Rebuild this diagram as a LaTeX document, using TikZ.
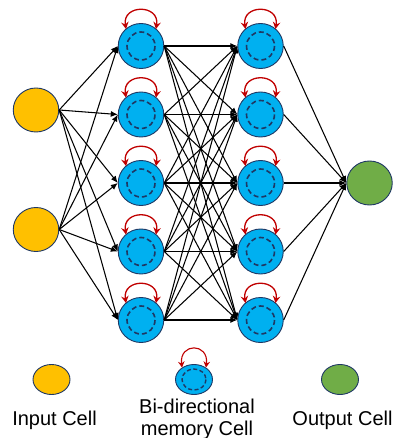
\documentclass[tikz,border=0pt]{standalone}
\usepackage{fontspec}
\setmainfont{Liberation Sans}
\usetikzlibrary{arrows.meta,shapes.geometric}
\definecolor{incol}{HTML}{FFC000}
\definecolor{memcol}{HTML}{00B0F0}
\definecolor{outcol}{HTML}{70AD47}
\definecolor{edgecol}{HTML}{1F3864}
\definecolor{loopcol}{HTML}{C00000}
\begin{document}
\begin{tikzpicture}[x=1pt,y=-1pt,
  cell/.style={ellipse,draw=edgecol,line width=0.9pt,inner sep=0pt},
  bigcell/.style={cell,minimum width=45.5pt,minimum height=45pt},
  smallcell/.style={cell,minimum width=37pt,minimum height=30pt},
  incell/.style={fill=incol},
  memcell/.style={fill=memcol},
  outcell/.style={fill=outcol},
  inner/.style={draw=edgecol,line width=1.6pt,dash pattern=on 5pt off 3pt},
  selfloop/.style={draw=loopcol,line width=1.3pt,{Stealth[length=7pt,width=7.5pt,inset=2.5pt]}-{Stealth[length=7pt,width=7.5pt,inset=2.5pt]}},
  conn/.style={draw=black,line width=1.05pt,-{Latex[length=7pt,width=6pt]}},
  legend/.style={font=\fontsize{20}{22}\selectfont,inner sep=0pt,anchor=base}
]
\useasboundingbox (0,0) rectangle (395,438);

% input cells
\node[bigcell,incell,minimum height=44pt] (i1) at (36,110) {};
\node[bigcell,incell,minimum height=44pt] (i2) at (36,229.5) {};

% hidden layers
\foreach \k/\yy in {1/46,2/114.5,3/183,4/251.5,5/320}{
  \node[bigcell,memcell] (a\k) at (141,\yy) {};
  \node[bigcell,memcell] (b\k) at (260.5,\yy) {};
}
% output
\node[bigcell,outcell,minimum height=44pt] (o) at (369.5,183) {};

% connectors
\foreach \i in {1,2}{
  \foreach \k in {1,...,5}{
    \draw[conn] (i\i.east) -- (a\k.west);
  }
}
\foreach \j in {1,...,5}{
  \foreach \k in {1,...,5}{
    \draw[conn] (a\j.east) -- (b\k.west);
  }
}
\foreach \k in {1,...,5}{
  \draw[conn] (b\k.east) -- (o.west);
}

% inner dashed circles and self loops
\foreach \n in {a1,a2,a3,a4,a5,b1,b2,b3,b4,b5}{
  \draw[inner] (\n.center) circle (14);
  \draw[selfloop] ([shift={(-15,-17)}]\n.center) .. controls ([shift={(-19,-42)}]\n.center) and ([shift={(19,-42)}]\n.center) .. ([shift={(15,-17)}]\n.center);
}

% legend
\node[smallcell,incell] (li) at (51.5,379.5) {};
\node[smallcell,memcell] (lm) at (194,379.5) {};
\draw[inner,line width=1.4pt,dash pattern=on 4pt off 2.5pt] (lm.center) ellipse (12 and 10.5);
\draw[selfloop,line width=1.1pt,{Stealth[length=6pt,width=6.5pt,inset=2pt]}-{Stealth[length=6pt,width=6.5pt,inset=2pt]}] ([shift={(-12,-12)}]lm.center) .. controls ([shift={(-15,-37)}]lm.center) and ([shift={(15,-37)}]lm.center) .. ([shift={(12,-12)}]lm.center);
\node[smallcell,outcell] (lo) at (340,379.5) {};

\node[legend] (ti) at (54.5,425) {Input Cell};
\node[legend] (tm1) at (197,413) {Bi-directional};
\node[legend] (tm2) at (197,435) {memory Cell};
\node[legend] (to) at (342.5,425) {Output Cell};
\end{tikzpicture}
\end{document}
